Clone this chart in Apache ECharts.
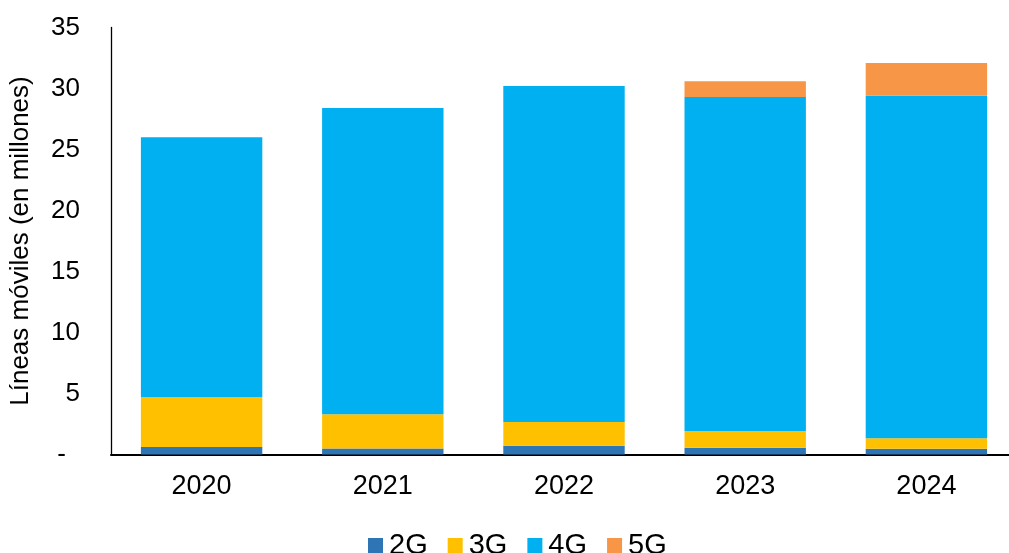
<!DOCTYPE html>
<html>
<head>
<meta charset="utf-8">
<script src="https://cdn.jsdelivr.net/npm/echarts@6/dist/echarts.min.js"></script>
<style>
html,body{margin:0;padding:0;background:#fff;}
#c{width:1009px;height:553px;}
</style>
</head>
<body>
<div id="c"></div>
<script>
const years = ['2020', '2021', '2022', '2023', '2024'];
const g2 = [0.61, 0.50, 0.72, 0.56, 0.48];
const g3 = [4.09, 2.80, 1.94, 1.37, 0.85];
const g4 = [21.30, 25.10, 27.54, 27.37, 28.07];
const g5 = [0, 0, 0, 1.30, 2.70];
const yTicks = { min: 0, max: 35, interval: 5 };
const yTitle = 'Líneas móviles (en millones)';

const FONT = 'Liberation Sans, Arial, sans-serif';
const chart = echarts.init(document.getElementById('c'), null, { renderer: 'canvas' });

function bar(name, data, color) {
  return {
    name: name, type: 'bar', stack: 'total', data: data,
    barCategoryGap: '33%',
    itemStyle: { color: color },
    emphasis: { disabled: true }
  };
}

chart.setOption({
  animation: false,
  backgroundColor: '#fff',
  grid: { left: 111, width: 906, top: 27.5, bottom: 98.5, containLabel: false, outerBoundsMode: 'none' },
  legend: {
    left: 363, top: 526,
    itemWidth: 15, itemHeight: 15, itemGap: 20,
    icon: 'rect',
    textStyle: { fontFamily: FONT, fontSize: 29, color: '#000', lineHeight: 28, padding: [0, 0, 0, 1] },
    data: ['2G', '3G', '4G', '5G']
  },
  xAxis: {
    type: 'category', data: years,
    axisLine: { lineStyle: { color: '#000', width: 2 } },
    axisTick: { show: false },
    axisLabel: { fontFamily: FONT, fontSize: 27, color: '#000', margin: 19 }
  },
  yAxis: {
    type: 'value', min: yTicks.min, max: yTicks.max, interval: yTicks.interval,
    name: yTitle, nameLocation: 'middle', nameRotate: 90, nameGap: 77,
    nameTextStyle: { fontFamily: FONT, fontSize: 26, color: '#000' },
    axisLine: { show: true, lineStyle: { color: '#000', width: 1.3 } },
    axisTick: { show: false },
    splitLine: { show: false },
    axisLabel: {
      fontFamily: FONT, fontSize: 26, color: '#000', margin: 31,
      formatter: function (v) { return v === 0 ? '{d|-}' : String(v); },
      rich: { d: { fontFamily: FONT, fontSize: 26, color: '#000', padding: [0, 14, 0, 0] } }
    }
  },
  series: [
    bar('2G', g2, '#2E75B6'),
    bar('3G', g3, '#FFC000'),
    bar('4G', g4, '#00B0F0'),
    bar('5G', g5, '#F79646')
  ]
});
</script>
</body>
</html>
